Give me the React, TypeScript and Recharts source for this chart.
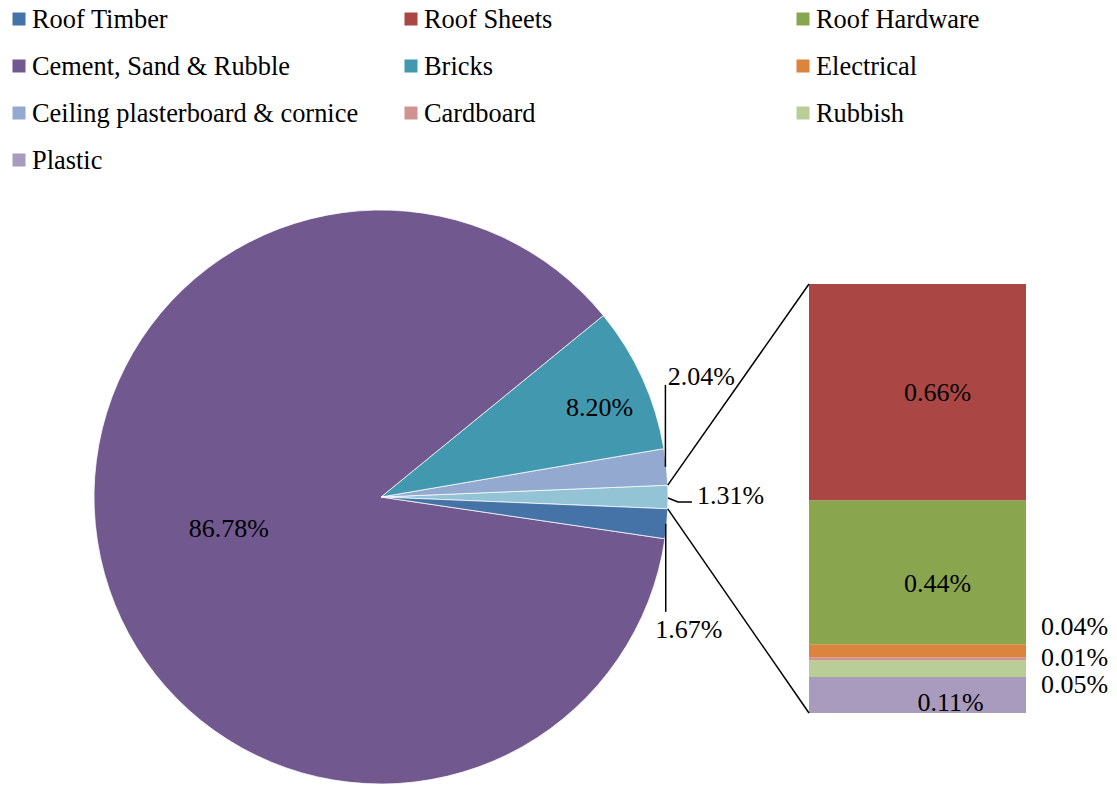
import React from "react";
import { PieChart, Pie, Cell, BarChart, Bar, XAxis, YAxis, LabelList } from "recharts";

const W = 1117;
const H = 785;
const FONT = '"Liberation Serif", "Times New Roman", serif';
const FONT_SIZE = 26;

// pie part (the first slice is the "other" slice that opens into the bar)
const PIE_NAMES = ["Other", "Ceiling plasterboard & cornice", "Bricks", "Cement, Sand & Rubble", "Roof Timber"];
const PIE_VALUES = [1.31, 2.04, 8.2, 86.78, 1.67];
const PIE_COLOURS = ["#92C4D5", "#93A9CF", "#4198AF", "#71588F", "#4572A7"];

// bar part, stacked bottom to top
const BAR_KEYS = ["plastic", "rubbish", "cardboard", "electrical", "hardware", "sheets"];
const BAR_VALUES = [0.11, 0.05, 0.01, 0.04, 0.44, 0.66];
const BAR_COLOURS = ["#A99BBD", "#B9CD96", "#D19392", "#DB843D", "#89A54E", "#AA4643"];

const LEGEND_NAMES = [
  "Roof Timber", "Roof Sheets", "Roof Hardware",
  "Cement, Sand & Rubble", "Bricks", "Electrical",
  "Ceiling plasterboard & cornice", "Cardboard", "Rubbish",
  "Plastic",
];
const LEGEND_COLOURS = [
  "#4572A7", "#AA4643", "#89A54E",
  "#71588F", "#4198AF", "#DB843D",
  "#93A9CF", "#D19392", "#B9CD96",
  "#A99BBD",
];

// layout
const PIE_CX = 381;
const PIE_CY = 497;
const PIE_R = 287;
const BAR_LEFT = 809;
const BAR_RIGHT = 1026;
const BAR_TOP = 284;
const BAR_BOTTOM = 713;

const RAD = Math.PI / 180;
const OTHER_HALF = (PIE_VALUES[0] / 100) * 180;
const BAR_TOTAL = BAR_VALUES.reduce((a, b) => a + b, 0);

const pieData = PIE_NAMES.map((name, i) => ({ name, value: PIE_VALUES[i] }));
const barData = [
  BAR_KEYS.reduce<Record<string, number | string>>((row, k, i) => {
    row[k] = BAR_VALUES[i];
    return row;
  }, { name: "Other" }),
];

// label placement tweaks (dx, dy from the segment centre; outside labels start right of the bar)
const BAR_LABEL_POS: Record<string, { dx: number; dy: number; outside?: boolean }> = {
  plastic: { dx: 33, dy: 8 },
  rubbish: { dx: 15, dy: 16, outside: true },
  cardboard: { dx: 15, dy: -1, outside: true },
  electrical: { dx: 15, dy: -24, outside: true },
  hardware: { dx: 20, dy: 11 },
  sheets: { dx: 20, dy: 0 },
};

const fmt = (v: number) => v.toFixed(2) + "%";

const textStyle = { fontFamily: FONT, fontSize: FONT_SIZE, fill: "#000" };

function renderPieLabel(props: any) {
  const { cx, cy, midAngle, outerRadius, index } = props;
  const cos = Math.cos(-midAngle * RAD);
  const sin = Math.sin(-midAngle * RAD);
  const txt = fmt(PIE_VALUES[index]);
  if (index === 2 || index === 3) {
    const f = index === 3 ? 0.55 : 0.837;
    const x = cx + outerRadius * f * cos;
    const y = cy + outerRadius * f * sin + (index === 3 ? -10 : 10);
    return (
      <text x={x} y={y} textAnchor="middle" dominantBaseline="central" style={textStyle}>
        {txt}
      </text>
    );
  }
  const ex = cx + outerRadius * cos;
  const ey = cy + outerRadius * sin;
  if (index === 0) {
    return (
      <g>
        <polyline points={`${ex},${ey + 1} ${ex + 10},${ey + 5} ${ex + 24},${ey + 5}`} fill="none" stroke="#000" strokeWidth={1.5} />
        <text x={ex + 29} y={ey - 2} textAnchor="start" dominantBaseline="central" style={textStyle}>
          {txt}
        </text>
      </g>
    );
  }
  const up = index === 1;
  return (
    <g>
      <line x1={ex - 1} y1={ey} x2={ex - 1} y2={up ? ey - 82 : ey + 88} stroke="#000" strokeWidth={1.5} />
      <text x={up ? ex + 35 : ex + 22} y={up ? ey - 90 : ey + 106} textAnchor="middle" dominantBaseline="central" style={textStyle}>
        {txt}
      </text>
    </g>
  );
}

function barLabel(key: string) {
  return (props: any) => {
    const { x, y, width, height, value } = props;
    const pos = BAR_LABEL_POS[key];
    const cxm = Number(x) + Number(width) / 2;
    const cym = Number(y) + Number(height) / 2;
    if (pos.outside) {
      return (
        <text x={Number(x) + Number(width) + pos.dx} y={cym + pos.dy} textAnchor="start" dominantBaseline="central" style={textStyle}>
          {fmt(Number(value))}
        </text>
      );
    }
    return (
      <text x={cxm + pos.dx} y={cym + pos.dy} textAnchor="middle" dominantBaseline="central" style={textStyle}>
        {fmt(Number(value))}
      </text>
    );
  };
}

function Legend() {
  return (
    <svg width={W} height={190} style={{ position: "absolute", left: 0, top: 0 }}>
      {LEGEND_NAMES.map((name, i) => {
        const col = i % 3;
        const row = Math.floor(i / 3);
        const x = 12.5 + col * 392;
        const base = 28 + row * 47;
        return (
          <g key={name}>
            <rect x={x} y={base - 15.5} width={13} height={13} fill={LEGEND_COLOURS[i]} />
            <text x={x + 19.5} y={base} style={{ ...textStyle, fontSize: 26.4 }}>
              {name}
            </text>
          </g>
        );
      })}
    </svg>
  );
}

export default function App() {
  const topA = OTHER_HALF * RAD;
  const px = PIE_CX + PIE_R * Math.cos(topA);
  const pyTop = PIE_CY - PIE_R * Math.sin(topA);
  const pyBottom = PIE_CY + PIE_R * Math.sin(topA);

  return (
    <div style={{ position: "absolute", left: 0, top: 0, width: W, height: H, background: "#fff", overflow: "hidden" }}>
      <div style={{ position: "absolute", left: 0, top: 0 }}>
        <PieChart width={W} height={H} margin={{ top: 0, right: 0, bottom: 0, left: 0 }}>
          <Pie
            data={pieData}
            dataKey="value"
            nameKey="name"
            cx={PIE_CX}
            cy={PIE_CY}
            outerRadius={PIE_R}
            startAngle={-OTHER_HALF}
            endAngle={360 - OTHER_HALF}
            stroke="#fff"
            strokeWidth={0.75}
            label={renderPieLabel}
            labelLine={false}
            isAnimationActive={false}
          >
            {pieData.map((d, i) => (
              <Cell key={d.name} fill={PIE_COLOURS[i]} />
            ))}
          </Pie>
        </PieChart>
      </div>
      <div style={{ position: "absolute", left: 0, top: 0 }}>
        <BarChart
          width={W}
          height={H}
          data={barData}
          margin={{ top: BAR_TOP, right: W - BAR_RIGHT, bottom: H - BAR_BOTTOM, left: BAR_LEFT }}
          barCategoryGap={0}
        >
          <XAxis dataKey="name" hide />
          <YAxis type="number" domain={[0, BAR_TOTAL]} allowDataOverflow hide />
          {BAR_KEYS.map((k, i) => (
            <Bar key={k} dataKey={k} stackId="s" fill={BAR_COLOURS[i]} isAnimationActive={false}>
              <LabelList dataKey={k} content={barLabel(k)} />
            </Bar>
          ))}
        </BarChart>
      </div>
      <svg width={W} height={H} style={{ position: "absolute", left: 0, top: 0, pointerEvents: "none" }}>
        <line x1={px} y1={pyTop} x2={BAR_LEFT} y2={BAR_TOP} stroke="#000" strokeWidth={1.5} />
        <line x1={px} y1={pyBottom} x2={BAR_LEFT} y2={BAR_BOTTOM} stroke="#000" strokeWidth={1.5} />
      </svg>
      <Legend />
    </div>
  );
}
